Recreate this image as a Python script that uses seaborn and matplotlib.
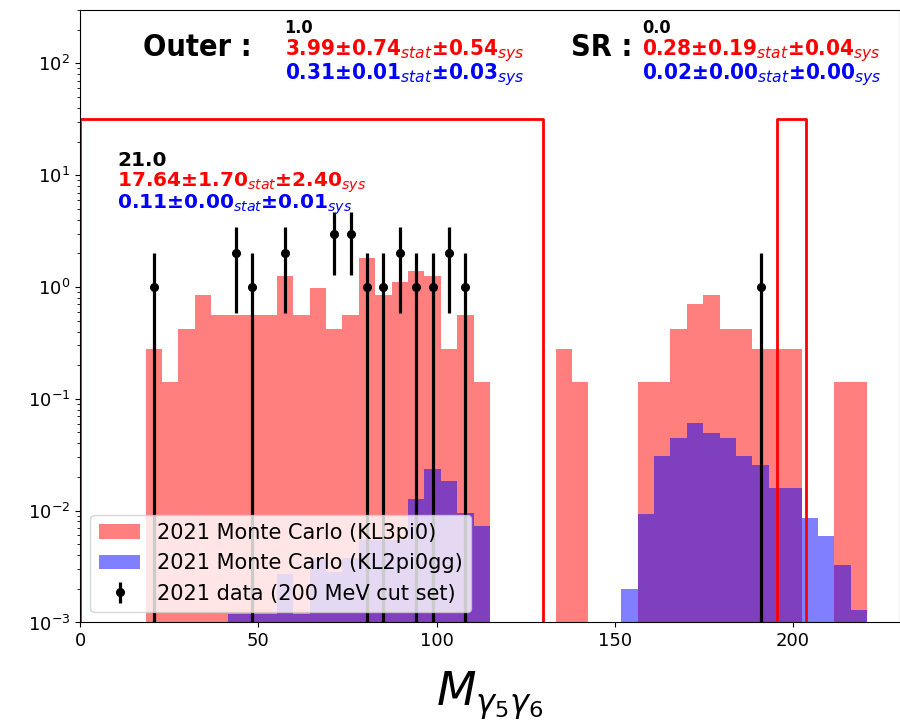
import numpy as np
import pandas as pd
import matplotlib
matplotlib.use("Agg")
import matplotlib.pyplot as plt
import seaborn as sns
from matplotlib.patches import Patch

# ---------------- data ----------------
bin_edges = np.linspace(0, 230, 51)          # 50 bins of 4.6 MeV
bin_centers = 0.5 * (bin_edges[:-1] + bin_edges[1:])

kl3pi0 = [0, 0, 0, 0, 0.28, 0.14, 0.42, 0.84, 0.56, 0.56,
          0.56, 0.56, 1.26, 0.56, 0.98, 0.42, 0.56, 1.80, 0.84, 1.12,
          1.40, 1.26, 0.28, 0.56, 0.14, 0, 0, 0, 0, 0.28,
          0.14, 0, 0, 0, 0.14, 0.14, 0.42, 0.70, 0.84, 0.42,
          0.42, 0.28, 0.28, 0.28, 0, 0, 0.14, 0.14, 0, 0]

kl2pi0gg = [0, 0, 0, 0, 0, 0, 0, 0, 0, 0.0012,
            0.0012, 0.0012, 0.0027, 0.0012, 0.0038, 0.0028, 0.0038, 0.0055, 0.0055, 0.0055,
            0.0127, 0.0234, 0.0185, 0.0095, 0.0073, 0, 0, 0, 0, 0,
            0, 0, 0, 0.0020, 0.0093, 0.0306, 0.0448, 0.0610, 0.0497, 0.0448,
            0.0306, 0.0258, 0.0160, 0.0160, 0.0086, 0.0059, 0.0033, 0.0013, 0, 0]

data_bins = [4, 9, 10, 12, 15, 16, 17, 18, 19, 20, 21, 22, 23, 41]
data_counts = [1, 2, 1, 2, 3, 3, 1, 1, 2, 1, 1, 2, 1, 1]

outer_box = [0, 130]
sr_box = [195.4, 203.6]
box_top = 31.6

outer_texts = ["1.0", "3.99±0.74$_{stat}$±0.54$_{sys}$", "0.31±0.01$_{stat}$±0.03$_{sys}$"]
sr_texts = ["0.0", "0.28±0.19$_{stat}$±0.04$_{sys}$", "0.02±0.00$_{stat}$±0.00$_{sys}$"]
left_texts = ["21.0", "17.64±1.70$_{stat}$±2.40$_{sys}$", "0.11±0.00$_{stat}$±0.01$_{sys}$"]

df = pd.DataFrame({"center": bin_centers,
                   "kl3pi0": np.array(kl3pi0, dtype=float),
                   "kl2pi0gg": np.array(kl2pi0gg, dtype=float)})

# ---------------- figure ----------------
fig = plt.figure(figsize=(9, 7.25), dpi=100)
ax = fig.add_axes([0.0889, 0.1414, 0.9111, 0.8448])

sns.histplot(data=df, x="center", weights="kl3pi0", bins=list(bin_edges),
             color="red", alpha=0.5, linewidth=0, ax=ax)
sns.histplot(data=df, x="center", weights="kl2pi0gg", bins=list(bin_edges),
             color="blue", alpha=0.5, linewidth=0, ax=ax)

dx = bin_centers[data_bins]
dy = np.array(data_counts, dtype=float)
eb = ax.errorbar(dx, dy, yerr=np.sqrt(dy), fmt="o", color="black",
                 markersize=5.5, elinewidth=2.3, capsize=0)

ax.plot([outer_box[0], outer_box[0], outer_box[1], outer_box[1]],
        [1e-3, box_top, box_top, 1e-3], color="red", lw=2)
ax.plot([sr_box[0], sr_box[0], sr_box[1], sr_box[1]],
        [1e-3, box_top, box_top, 1e-3], color="red", lw=2)

ax.set_yscale("log")
ax.set_xlim(0, 230)
ax.set_ylim(1e-3, 300)
ax.set_ylabel("")
ax.set_xlabel(r"$M_{\gamma_5\gamma_6}$", fontsize=33, labelpad=14)
ax.tick_params(labelsize=13)

cond = dict(fontfamily="DejaVu Sans", fontstretch="condensed", fontweight="bold")

# Outer region annotation
ax.text(17.6, 116, "Outer :", fontsize=22, color="black", **cond)
ax.text(57.4, 188, outer_texts[0], fontsize=13, color="black", **cond)
ax.text(57.4, 119, outer_texts[1], fontsize=16, color="red", **cond)
ax.text(57.4, 72, outer_texts[2], fontsize=16, color="blue", **cond)

# SR annotation
ax.text(137.8, 116, "SR :", fontsize=22, color="black", **cond)
ax.text(157.7, 188, sr_texts[0], fontsize=13, color="black", **cond)
ax.text(157.7, 119, sr_texts[1], fontsize=16, color="red", **cond)
ax.text(157.7, 72, sr_texts[2], fontsize=16, color="blue", **cond)

# left box annotation
ax.text(10.4, 12.2, left_texts[0], fontsize=14.5, color="black", fontweight="bold")
ax.text(10.4, 7.9, left_texts[1], fontsize=14.5, color="red", fontweight="bold")
ax.text(10.4, 5.0, left_texts[2], fontsize=14.5, color="blue", fontweight="bold")

handles = [Patch(facecolor="red", alpha=0.5), Patch(facecolor="blue", alpha=0.5), eb]
labels = ["2021 Monte Carlo (KL3pi0)", "2021 Monte Carlo (KL2pi0gg)",
          "2021 data (200 MeV cut set)"]
ax.legend(handles, labels, loc="lower left", fontsize=15)

fig.savefig("out.png", dpi=100)
